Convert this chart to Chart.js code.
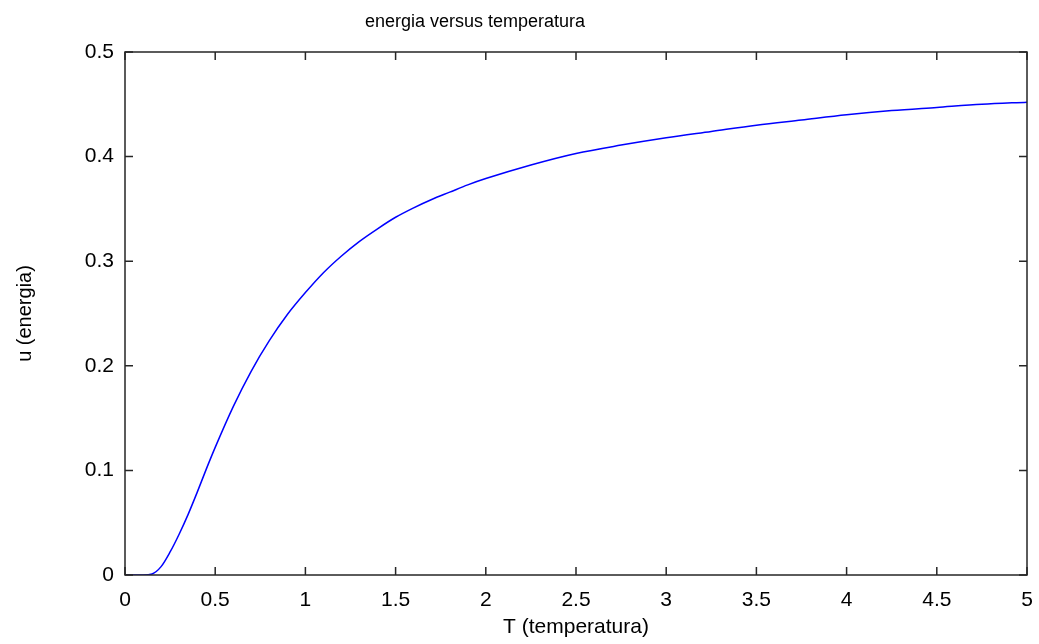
<!DOCTYPE html>
<html>
<head>
<meta charset="utf-8">
<script src="https://cdn.jsdelivr.net/npm/chart.js@4/dist/chart.umd.min.js"></script>
<style>
  html, body { margin: 0; padding: 0; background: #fff; }
  canvas { display: block; }
</style>
</head>
<body>
<canvas id="energyChart" width="1039" height="644"></canvas>
<script>
// temperatura (eixo x) e energia (eixo y)
var temps = [0, 0.1, 0.15, 0.2, 0.25, 0.3, 0.35, 0.4, 0.45, 0.5, 0.6, 0.7, 0.8, 0.9,
  1.0, 1.1, 1.2, 1.3, 1.4, 1.5, 1.6, 1.7, 1.8, 1.9, 2.0, 2.25, 2.5, 2.75, 3.0,
  3.25, 3.5, 3.75, 4.0, 4.25, 4.5, 4.75, 5.0];
var energy = [0, 0, 0.001, 0.008, 0.022, 0.039, 0.058, 0.079, 0.101, 0.122, 0.161,
  0.195, 0.224, 0.249, 0.270, 0.289, 0.305, 0.319, 0.331, 0.342, 0.351, 0.359,
  0.366, 0.373, 0.379, 0.392, 0.403, 0.411, 0.418, 0.424, 0.430, 0.435, 0.440,
  0.444, 0.447, 0.450, 0.452];

// marcas dos eixos
var xTicks = [0, 0.5, 1, 1.5, 2, 2.5, 3, 3.5, 4, 4.5, 5];
var yTicks = [0, 0.1, 0.2, 0.3, 0.4, 0.5];

var titleText = "energia versus temperatura";

var points = [];
for (var i = 0; i < temps.length; i++) {
  points.push({ x: temps[i], y: energy[i] });
}

var fontFamily = "'Liberation Sans', Arial, Helvetica, sans-serif";

// caixa em volta do gráfico com marcas para dentro (estilo MATLAB) + título
var frame = {
  id: "frame",
  afterDraw: function (chart) {
    var ctx = chart.ctx;
    var a = chart.chartArea;
    var x = chart.scales.x;
    var y = chart.scales.y;
    var len = 8;
    ctx.save();
    ctx.strokeStyle = "#262626";
    ctx.lineWidth = 1.5;
    ctx.strokeRect(a.left, a.top, a.right - a.left, a.bottom - a.top);
    ctx.beginPath();
    xTicks.forEach(function (v) {
      var px = x.getPixelForValue(v);
      ctx.moveTo(px, a.bottom);
      ctx.lineTo(px, a.bottom - len);
      ctx.moveTo(px, a.top);
      ctx.lineTo(px, a.top + len);
    });
    yTicks.forEach(function (v) {
      var py = y.getPixelForValue(v);
      ctx.moveTo(a.left, py);
      ctx.lineTo(a.left + len, py);
      ctx.moveTo(a.right, py);
      ctx.lineTo(a.right - len, py);
    });
    ctx.stroke();

    // título (no original fica um pouco à esquerda do centro)
    ctx.fillStyle = "#000";
    ctx.font = "18px " + fontFamily;
    ctx.textAlign = "center";
    ctx.textBaseline = "middle";
    ctx.fillText(titleText, 475, 22);
    ctx.restore();
  }
};

var ctx = document.getElementById("energyChart").getContext("2d");
var chart = new Chart(ctx, {
  type: "line",
  data: {
    datasets: [
      {
        label: "u",
        data: points,
        borderColor: "#0000ff",
        borderWidth: 1.5,
        pointRadius: 0,
        fill: false,
        cubicInterpolationMode: "monotone"
      }
    ]
  },
  options: {
    responsive: false,
    animation: false,
    layout: { padding: { left: 0, right: 12, top: 52, bottom: 0 } },
    plugins: {
      legend: { display: false },
      tooltip: { enabled: false },
      title: { display: false }
    },
    scales: {
      x: {
        type: "linear",
        min: 0,
        max: 5,
        afterBuildTicks: function (s) {
          s.ticks = xTicks.map(function (v) { return { value: v }; });
        },
        afterFit: function (s) {
          s.height = 69;
          s.paddingLeft = 0;
          s.paddingRight = 0;
        },
        grid: { display: false, drawTicks: false },
        border: { display: false },
        ticks: {
          color: "#000",
          padding: 13,
          maxRotation: 0,
          font: { family: fontFamily, size: 21 },
          callback: function (v) { return String(Number(v.toFixed(1))); }
        },
        title: {
          display: true,
          text: "T (temperatura)",
          color: "#000",
          font: { family: fontFamily, size: 21, lineHeight: 1.2 },
          padding: { top: 0, bottom: 4 }
        }
      },
      y: {
        type: "linear",
        min: 0,
        max: 0.5,
        afterBuildTicks: function (s) {
          s.ticks = yTicks.map(function (v) { return { value: v }; });
        },
        afterFit: function (s) {
          s.width = 125;
          s.paddingTop = 0;
          s.paddingBottom = 0;
        },
        grid: { display: false, drawTicks: false },
        border: { display: false },
        ticks: {
          color: "#000",
          padding: 11,
          font: { family: fontFamily, size: 21 },
          callback: function (v) { return String(Number(v.toFixed(1))); }
        },
        title: {
          display: true,
          text: "u (energia)",
          color: "#000",
          font: { family: fontFamily, size: 20, lineHeight: 1.2 },
          padding: { top: 13, bottom: 0 }
        }
      }
    }
  },
  plugins: [frame]
});
</script>
</body>
</html>
